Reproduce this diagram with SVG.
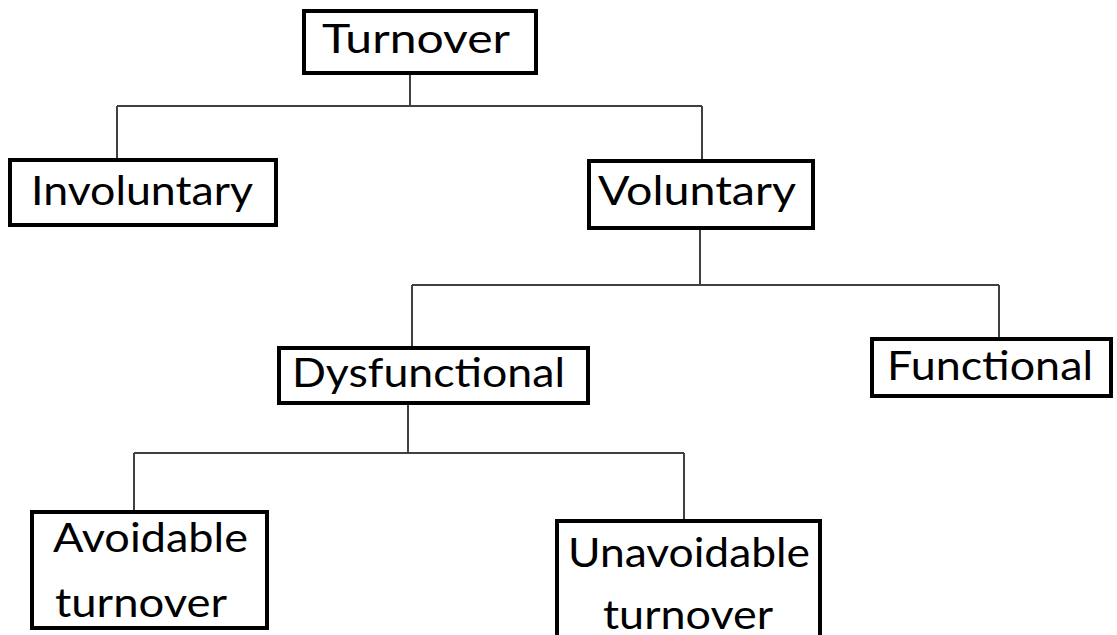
<svg xmlns="http://www.w3.org/2000/svg" width="1117" height="635" viewBox="0 0 1117 635">
<style>
.box{fill:#fff;stroke:#000;stroke-width:4}
.lbl{font-family:Lato,"Open Sans","Liberation Sans",sans-serif;font-size:41px;fill:#000}
.conn{fill:none;stroke:#404040;stroke-width:2}
</style>
<rect width="1117" height="635" fill="#fff"/>
<g id="connectors" class="conn">
<path d="M410 75V106M117 106H702M117 106V158M702 106V159"/>
<path d="M700 230V285M412 285H999M412 285V346M999 285V337"/>
<path d="M408 405V453M134 453H684M134 453V510M684 453V519"/>
</g>
<g id="turnover"><rect class="box" x="304" y="11" width="232" height="62"/><text class="lbl" x="322" y="53" textLength="188" lengthAdjust="spacingAndGlyphs">Turnover</text></g>
<g id="involuntary"><rect class="box" x="10" y="160" width="266" height="65"/><text class="lbl" x="31" y="205" textLength="222" lengthAdjust="spacingAndGlyphs">Involuntary</text></g>
<g id="voluntary"><rect class="box" x="589" y="161" width="224" height="67"/><text class="lbl" x="598" y="205" textLength="198" lengthAdjust="spacingAndGlyphs">Voluntary</text></g>
<g id="dysfunctional"><rect class="box" x="279" y="348" width="309" height="55"/><text class="lbl" x="292" y="387" textLength="273" lengthAdjust="spacingAndGlyphs">Dysfunctional</text></g>
<g id="functional"><rect class="box" x="872" y="339" width="239" height="57"/><text class="lbl" x="887" y="380" textLength="206" lengthAdjust="spacingAndGlyphs">Functional</text></g>
<g id="avoidable"><rect class="box" x="32" y="512" width="235" height="116"/><text class="lbl" x="53" y="552" textLength="195" lengthAdjust="spacingAndGlyphs">Avoidable</text><text class="lbl" x="55" y="617" textLength="172" lengthAdjust="spacingAndGlyphs">turnover</text></g>
<g id="unavoidable"><rect class="box" x="557" y="521" width="263" height="130"/><text class="lbl" x="568" y="567" textLength="242" lengthAdjust="spacingAndGlyphs">Unavoidable</text><text class="lbl" x="603" y="629" textLength="170" lengthAdjust="spacingAndGlyphs">turnover</text></g>
</svg>
